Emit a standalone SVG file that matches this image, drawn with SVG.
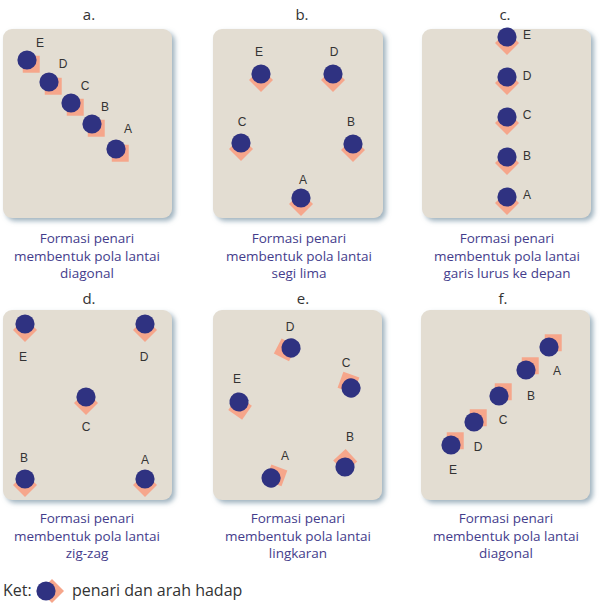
<svg xmlns="http://www.w3.org/2000/svg" xmlns:xlink="http://www.w3.org/1999/xlink" width="600" height="608" viewBox="0 0 600 608">
<style>
.box{fill:#e3ddd2;filter:url(#sh)}
.ttl{font-family:"Open Sans",sans-serif;font-size:15px;fill:#333;text-anchor:middle}
.lbl{font-family:"Liberation Sans",Arial,sans-serif;font-size:12px;fill:#333;text-anchor:middle}
.cap{font-family:"Open Sans",sans-serif;font-size:13.5px;fill:#443d8c;text-anchor:middle}
.ket{font-family:"Open Sans",sans-serif;font-size:16px;fill:#333}
</style>
<defs>
<filter id="sh" x="-10%" y="-10%" width="125%" height="125%">
<feDropShadow dx="3" dy="3" stdDeviation="2.5" flood-color="#8ea5b4" flood-opacity="0.85"/>
</filter>
<g id="dancer"><polygon points="18,0 6,12 -6,0 6,-12" fill="#f6a68b"/><circle r="9.6" fill="#2f3281"/></g>
</defs>
<rect width="600" height="608" fill="#ffffff"/>

<g id="panel-a">
<text class="ttl" x="89" y="20">a.</text>
<rect class="box" x="3" y="29" width="169" height="189" rx="9"/>
<use xlink:href="#dancer" transform="translate(27,60) rotate(45)"/>
<use xlink:href="#dancer" transform="translate(49,82) rotate(45)"/>
<use xlink:href="#dancer" transform="translate(71,103) rotate(45)"/>
<use xlink:href="#dancer" transform="translate(92,124) rotate(45)"/>
<use xlink:href="#dancer" transform="translate(116,149) rotate(45)"/>
<text class="lbl" x="40" y="47">E</text>
<text class="lbl" x="63" y="68">D</text>
<text class="lbl" x="85" y="90">C</text>
<text class="lbl" x="105" y="111">B</text>
<text class="lbl" x="128" y="133">A</text>
<text class="cap" x="87" y="243">Formasi penari</text>
<text class="cap" x="87" y="261">membentuk pola lantai</text>
<text class="cap" x="87" y="278">diagonal</text>
</g>

<g id="panel-b">
<text class="ttl" x="302" y="20">b.</text>
<rect class="box" x="213" y="29" width="170" height="189" rx="9"/>
<use xlink:href="#dancer" transform="translate(261,74) rotate(90)"/>
<use xlink:href="#dancer" transform="translate(333,74) rotate(90)"/>
<use xlink:href="#dancer" transform="translate(241,143) rotate(90)"/>
<use xlink:href="#dancer" transform="translate(353,144) rotate(90)"/>
<use xlink:href="#dancer" transform="translate(301,198) rotate(90)"/>
<text class="lbl" x="259" y="56">E</text>
<text class="lbl" x="334" y="56">D</text>
<text class="lbl" x="242" y="126">C</text>
<text class="lbl" x="351" y="126">B</text>
<text class="lbl" x="303" y="184">A</text>
<text class="cap" x="299" y="243">Formasi penari</text>
<text class="cap" x="299" y="261">membentuk pola lantai</text>
<text class="cap" x="299" y="278">segi lima</text>
</g>

<g id="panel-c">
<text class="ttl" x="505" y="20">c.</text>
<rect class="box" x="422" y="29" width="169" height="189" rx="9"/>
<use xlink:href="#dancer" transform="translate(507,37) rotate(90)"/>
<use xlink:href="#dancer" transform="translate(507,77) rotate(90)"/>
<use xlink:href="#dancer" transform="translate(507,117) rotate(90)"/>
<use xlink:href="#dancer" transform="translate(507,157) rotate(90)"/>
<use xlink:href="#dancer" transform="translate(507,197) rotate(90)"/>
<text class="lbl" x="527" y="39">E</text>
<text class="lbl" x="527" y="80">D</text>
<text class="lbl" x="527" y="119">C</text>
<text class="lbl" x="527" y="160">B</text>
<text class="lbl" x="527" y="199">A</text>
<text class="cap" x="507" y="243">Formasi penari</text>
<text class="cap" x="507" y="261">membentuk pola lantai</text>
<text class="cap" x="507" y="278">garis lurus ke depan</text>
</g>

<g id="panel-d">
<text class="ttl" x="89" y="304">d.</text>
<rect class="box" x="3" y="310" width="169" height="190" rx="9"/>
<use xlink:href="#dancer" transform="translate(25,324) rotate(90)"/>
<use xlink:href="#dancer" transform="translate(145,324) rotate(90)"/>
<use xlink:href="#dancer" transform="translate(86,397) rotate(90)"/>
<use xlink:href="#dancer" transform="translate(25,479) rotate(90)"/>
<use xlink:href="#dancer" transform="translate(145,479) rotate(90)"/>
<text class="lbl" x="23" y="361">E</text>
<text class="lbl" x="144" y="361">D</text>
<text class="lbl" x="86" y="431">C</text>
<text class="lbl" x="24" y="462">B</text>
<text class="lbl" x="145" y="464">A</text>
<text class="cap" x="87" y="523">Formasi penari</text>
<text class="cap" x="87" y="541">membentuk pola lantai</text>
<text class="cap" x="87" y="558">zig-zag</text>
</g>

<g id="panel-e">
<text class="ttl" x="303" y="304">e.</text>
<rect class="box" x="213" y="310" width="169" height="190" rx="9"/>
<use xlink:href="#dancer" transform="translate(291,348) rotate(162)"/>
<use xlink:href="#dancer" transform="translate(351,388) rotate(-115)"/>
<use xlink:href="#dancer" transform="translate(239,402) rotate(80)"/>
<use xlink:href="#dancer" transform="translate(345,467) rotate(-88)"/>
<use xlink:href="#dancer" transform="translate(271,478) rotate(-25)"/>
<text class="lbl" x="290" y="331">D</text>
<text class="lbl" x="346" y="367">C</text>
<text class="lbl" x="237" y="383">E</text>
<text class="lbl" x="350" y="441">B</text>
<text class="lbl" x="285" y="460">A</text>
<text class="cap" x="298" y="523">Formasi penari</text>
<text class="cap" x="298" y="541">membentuk pola lantai</text>
<text class="cap" x="298" y="558">lingkaran</text>
</g>

<g id="panel-f">
<text class="ttl" x="503" y="304">f.</text>
<rect class="box" x="421" y="310" width="169" height="190" rx="9"/>
<use xlink:href="#dancer" transform="translate(549,347) rotate(-45)"/>
<use xlink:href="#dancer" transform="translate(526,370) rotate(-45)"/>
<use xlink:href="#dancer" transform="translate(499,396) rotate(-45)"/>
<use xlink:href="#dancer" transform="translate(474,422) rotate(-45)"/>
<use xlink:href="#dancer" transform="translate(451,445) rotate(-45)"/>
<text class="lbl" x="557" y="375">A</text>
<text class="lbl" x="531" y="400">B</text>
<text class="lbl" x="503" y="424">C</text>
<text class="lbl" x="478" y="451">D</text>
<text class="lbl" x="453" y="474">E</text>
<text class="cap" x="506" y="523">Formasi penari</text>
<text class="cap" x="506" y="541">membentuk pola lantai</text>
<text class="cap" x="506" y="558">diagonal</text>
</g>

<g id="legend">
<text class="ket" x="3" y="596">Ket:</text>
<use xlink:href="#dancer" transform="translate(46,591)"/>
<text class="ket" x="72" y="596">penari dan arah hadap</text>
</g>
</svg>
